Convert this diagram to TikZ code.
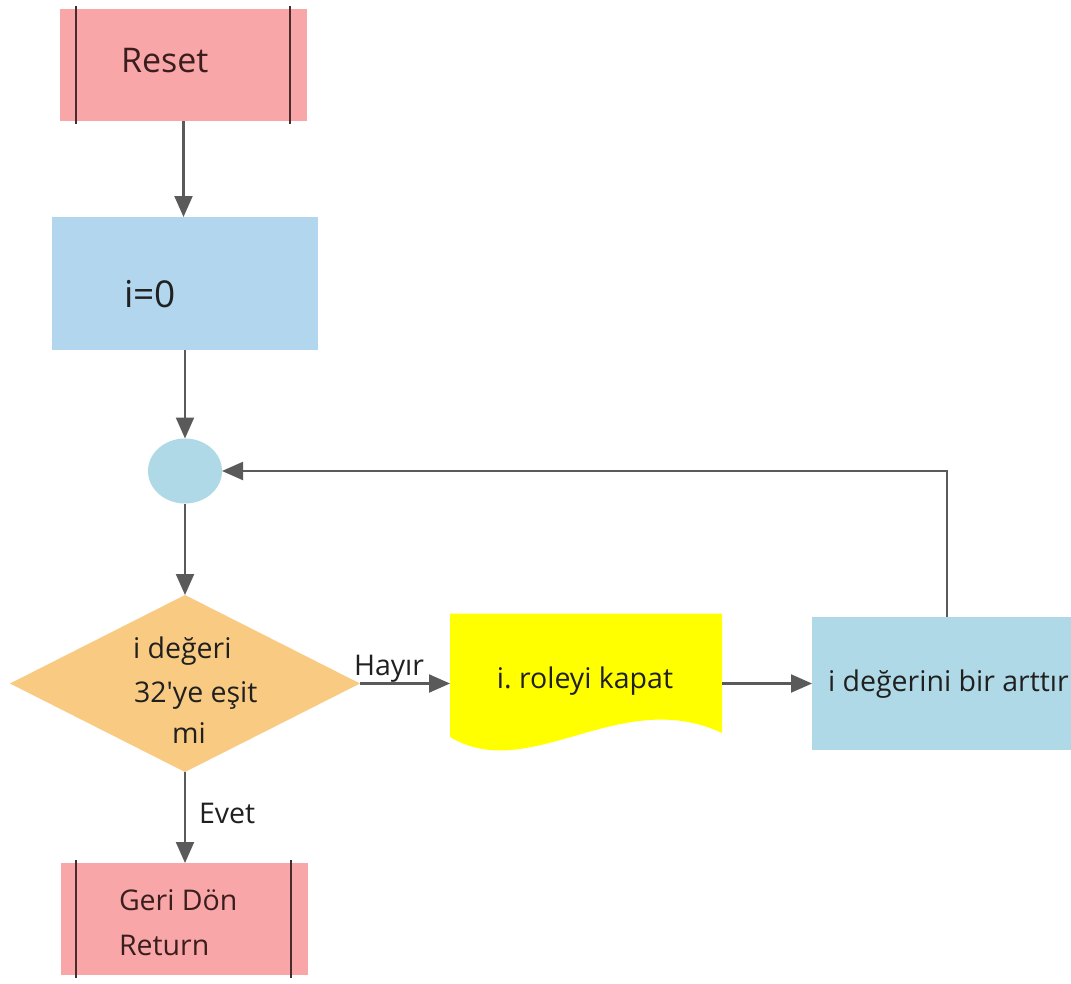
\documentclass[tikz,border=0pt]{standalone}
\usepackage{fontspec}
\setmainfont{Open Sans}
\usetikzlibrary{arrows.meta,shapes.geometric}
\definecolor{subpink}{HTML}{F9A6A9}
\definecolor{initblue}{HTML}{B2D6EE}
\definecolor{lightblue}{HTML}{AFD9E6}
\definecolor{decorange}{HTML}{F9CB82}
\definecolor{docyellow}{HTML}{FFFF00}
\definecolor{flowgray}{HTML}{5A5A5A}
\definecolor{inkdark}{HTML}{202020}
\definecolor{inkred}{HTML}{3A1E1E}
\definecolor{barline}{HTML}{4A2B2B}
\frenchspacing

\begin{document}
\begin{tikzpicture}[x=1pt,y=-1pt,
  every node/.style={inner sep=0pt, outer sep=0pt},
  lbl/.style={font=\fontsize{28.5}{34}\selectfont, text=inkdark},
  sublbl/.style={lbl, text=inkred},
  subbox/.style={rectangle, fill=subpink, minimum width=247pt, minimum height=112pt},
  bar/.style={draw=barline, line width=1.3pt},
  flow/.style={draw=flowgray, line width=2.1pt, -{Triangle[width=18pt,length=21pt]}},
]
\useasboundingbox (0,0) rectangle (1071,983);
\fill[white] (0,0) rectangle (1071,983);

% subroutine entry
\node[subbox] (reset) at (183.5,65) {};
\draw[bar] ([shift={(16pt,3pt)}]reset.north west) -- ([shift={(16pt,-3pt)}]reset.south west);
\draw[bar] ([shift={(-17pt,3pt)}]reset.north east) -- ([shift={(-17pt,-3pt)}]reset.south east);
\node[sublbl, font=\fontsize{34}{40}\selectfont, anchor=base west] (resettext) at (121,72) {Reset};

% counter initialisation
\node[rectangle, fill=initblue, minimum width=266pt, minimum height=133pt] (init) at (185,283.5) {};
\node[lbl, font=\fontsize{37}{44}\selectfont, anchor=base west] (inittext) at (124,307) {i=0};

% loop junction
\node[ellipse, fill=lightblue, minimum width=74pt, minimum height=65pt] (junction) at (185,471) {};

% decision
\node[diamond, fill=decorange, minimum width=350pt, minimum height=177pt] (test) at (185,683.5) {};
\node[lbl, anchor=base west] (testa) at (133,658) {i değeri};
\node[lbl, anchor=base west] (testb) at (134,702) {32\textquotesingle ye eşit};
\node[lbl, anchor=base west] (testc) at (172,743) {mi};

% relay off (document shape)
\node[rectangle, minimum width=272pt, minimum height=140pt] (doc) at (586,683.5) {};
\fill[docyellow] (doc.north west) -- (doc.north east) -- (722,733)
  .. controls (620,685) and (530,785) .. (450,737) -- cycle;
\node[lbl, anchor=base] (doctext) at (585,688) {i. roleyi kapat};

% increment
\node[rectangle, fill=lightblue, minimum width=270pt, minimum height=133pt] (incr) at (947,683.5) {};
\node[lbl, anchor=base west] (incrtext) at (828,691) {i değerini bir arttır};

% return
\node[subbox] (ret) at (184.5,919) {};
\draw[bar] ([shift={(15pt,3pt)}]ret.north west) -- ([shift={(15pt,-3pt)}]ret.south west);
\draw[bar] ([shift={(-17pt,3pt)}]ret.north east) -- ([shift={(-17pt,-3pt)}]ret.south east);
\node[sublbl, anchor=base west] (rettexta) at (119,910) {Geri Dön};
\node[sublbl, anchor=base west] (rettextb) at (119,955) {Return};

% connectors
\draw[flow] (reset.south) -- (reset.south |- init.north);
\draw[flow] (init.south) -- (junction.north);
\draw[flow] (junction.south) -- (test.north);
\draw[flow] (test.east) -- (test.east -| doc.west);
\draw[flow] (doc.east) -- (doc.east -| incr.west);
\draw[flow] (incr.north) |- (junction.east);
\draw[flow] (test.south) -- (test.south |- ret.north);

% branch labels
\node[lbl, anchor=base west] (hayir) at (354,675) {Hayır};
\node[lbl, anchor=base west] (evet) at (199,823) {Evet};
\end{tikzpicture}
\end{document}
